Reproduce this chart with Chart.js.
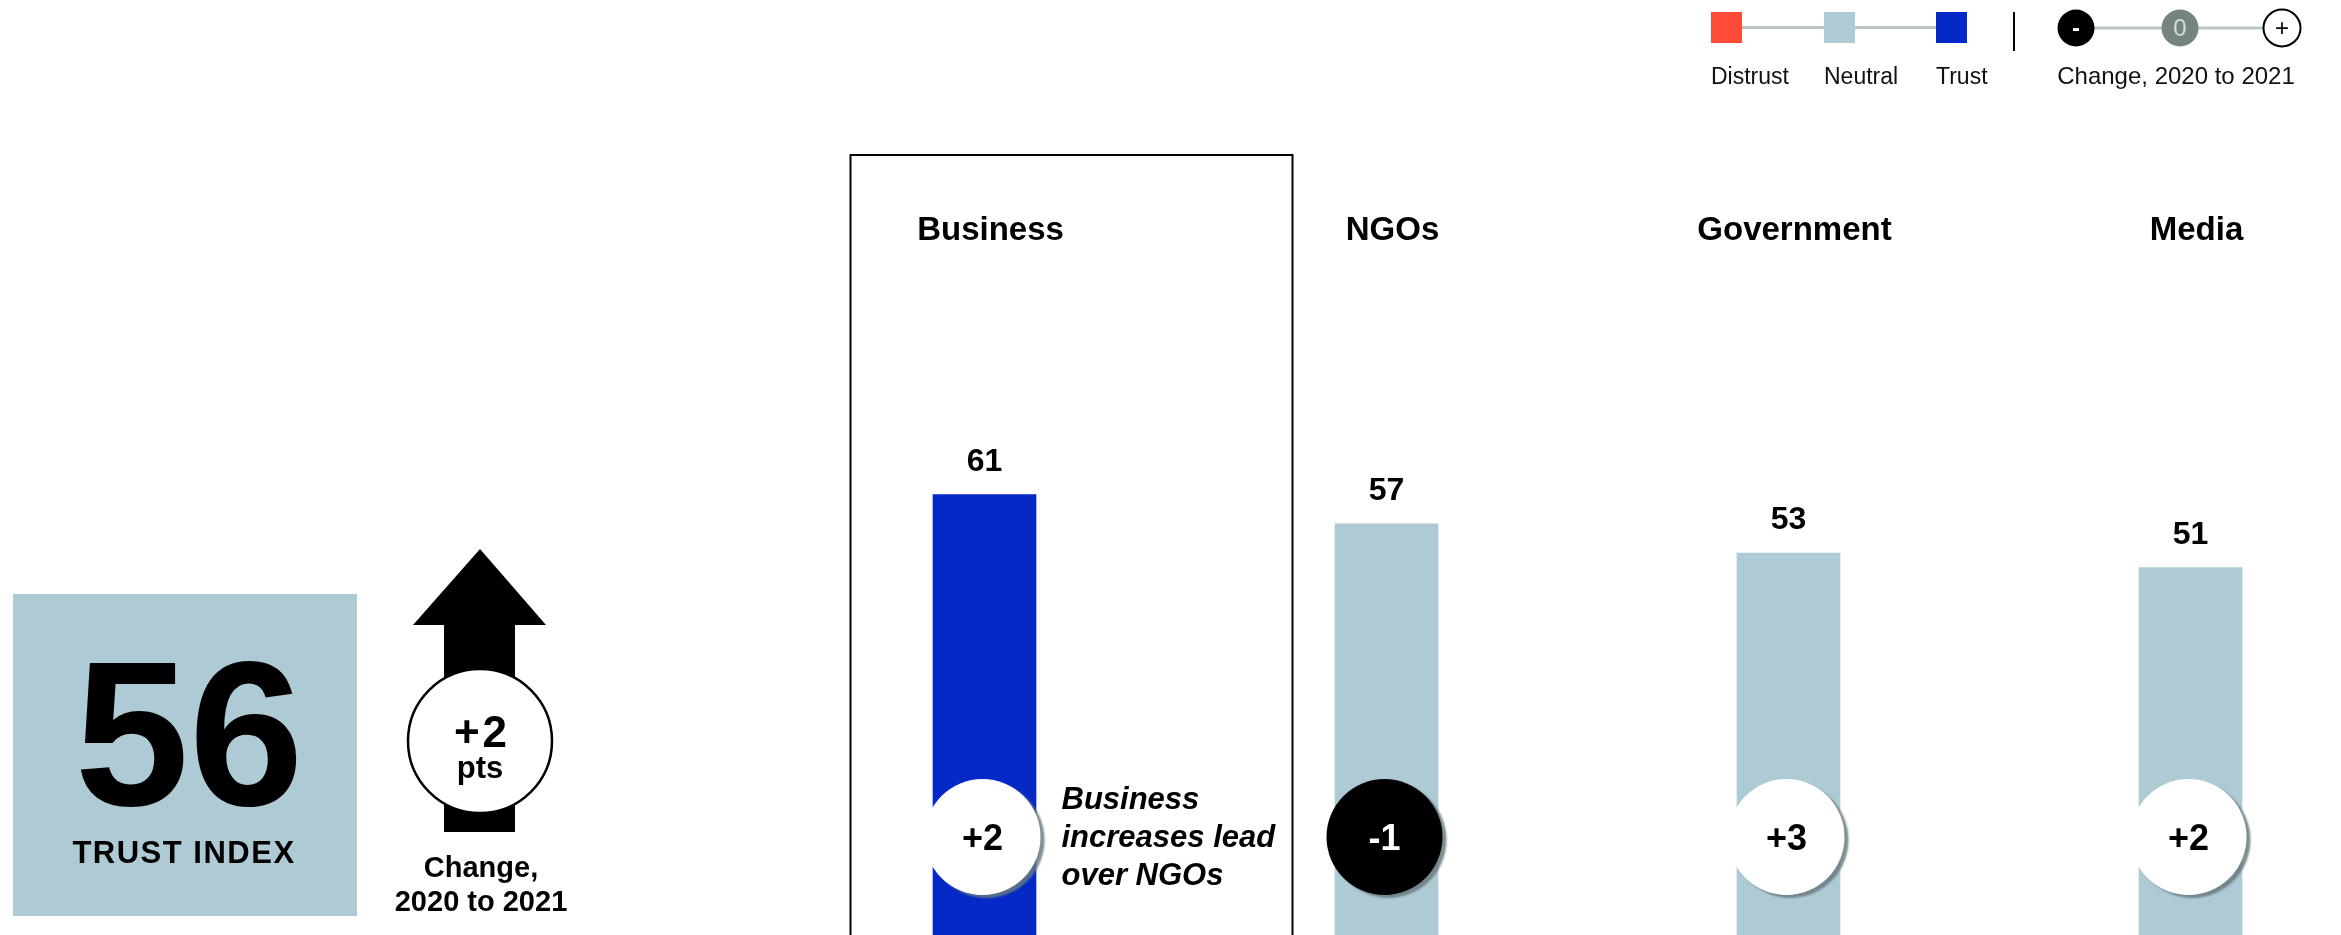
<!DOCTYPE html>
<html>
<head>
<meta charset="utf-8">
<title>Trust in institutions, 2021</title>
<script src="https://cdn.jsdelivr.net/npm/chart.js@4.4.1/dist/chart.umd.min.js"></script>
<style>
  html, body { margin: 0; padding: 0; background: #fff; overflow: hidden; }
  #wrap { position: relative; width: 2341px; height: 935px; overflow: hidden; }
  canvas { display: block; }
</style>
</head>
<body>
<div id="wrap"><canvas id="trustChart" width="2341" height="945"></canvas></div>
<script>
// trust scores per institution, 2021, and the change since 2020
var sectors = ['Business', 'NGOs', 'Government', 'Media'];
var trust2021 = [61, 57, 53, 51];
var change2020to2021 = [2, -1, 3, 2];

// overall trust index
var trustIndex = 56;
var indexChange = 2;

var levelLabels = ['Distrust', 'Neutral', 'Trust'];
var changeKeys = ['-', '0', '+'];
var changeCaption = 'Change, 2020 to 2021';
var leadNote = ['Business', 'increases lead', 'over NGOs'];

var FONT = '"Liberation Sans", Arial, Helvetica, sans-serif';
var COLORS = {
    distrust: '#ff4b38',
    neutral: '#aecad4',
    trust: '#0529c7',
    connector: '#bcc6c6',
    zero: '#75847f',
    shadow: 'rgba(105, 122, 128, 0.85)'
};
var levelColors = [COLORS.distrust, COLORS.neutral, COLORS.trust];

function levelColor(v) {
    if (v >= 60) return COLORS.trust;
    if (v >= 50) return COLORS.neutral;
    return COLORS.distrust;
}

function signed(v) {
    return (v > 0 ? '+' : '') + v;
}

function text(ctx, str, x, y, font, color, align) {
    ctx.font = font;
    ctx.fillStyle = color;
    ctx.textAlign = align || 'center';
    ctx.fillText(str, x, y);
}

function changeBadge(ctx, x, y, r, value) {
    ctx.save();
    ctx.shadowColor = COLORS.shadow;
    ctx.shadowOffsetX = 4;
    ctx.shadowOffsetY = 3;
    ctx.shadowBlur = 2;
    ctx.beginPath();
    ctx.arc(x, y, r, 0, Math.PI * 2);
    ctx.fillStyle = value < 0 ? '#000' : '#fff';
    ctx.fill();
    ctx.restore();
    ctx.textBaseline = 'alphabetic';
    text(ctx, signed(value), x, y + 13, 'bold 36px ' + FONT, value < 0 ? '#fff' : '#000');
}

function drawIndexPanel(ctx) {
    // trust index square
    ctx.fillStyle = levelColor(trustIndex);
    ctx.fillRect(13, 594, 344, 322);
    ctx.textBaseline = 'alphabetic';
    text(ctx, String(trustIndex), 189, 805, 'bold 206px ' + FONT, '#000');
    ctx.save();
    ctx.letterSpacing = '1.5px';
    text(ctx, 'TRUST INDEX', 184, 863, 'bold 31px ' + FONT, '#000');
    ctx.restore();

    // up arrow with the index change
    ctx.fillStyle = '#000';
    ctx.fillRect(444, 620, 71, 212);
    ctx.beginPath();
    ctx.moveTo(413, 625);
    ctx.lineTo(480, 549);
    ctx.lineTo(546, 625);
    ctx.closePath();
    ctx.fill();

    ctx.beginPath();
    ctx.arc(480, 741, 72, 0, Math.PI * 2);
    ctx.fillStyle = '#fff';
    ctx.fill();
    ctx.lineWidth = 2.5;
    ctx.strokeStyle = '#000';
    ctx.stroke();

    ctx.save();
    ctx.letterSpacing = '3px';
    text(ctx, signed(indexChange), 482, 747, 'bold 44px ' + FONT, '#000');
    ctx.restore();
    text(ctx, 'pts', 480, 778, 'bold 31px ' + FONT, '#000');

    text(ctx, 'Change,', 481, 877, 'bold 29px ' + FONT, '#000');
    text(ctx, '2020 to 2021', 481, 911, 'bold 29px ' + FONT, '#000');
}

function drawLegend(ctx) {
    var sq = [1711, 1824, 1936];
    ctx.strokeStyle = COLORS.connector;
    ctx.lineWidth = 3;
    ctx.beginPath();
    ctx.moveTo(sq[0] + 31, 27.5);
    ctx.lineTo(sq[2], 27.5);
    ctx.stroke();
    ctx.textBaseline = 'alphabetic';
    for (var i = 0; i < levelLabels.length; i++) {
        ctx.fillStyle = levelColors[i];
        ctx.fillRect(sq[i], 12, 31, 31);
        text(ctx, levelLabels[i], sq[i], 84, '23px ' + FONT, '#111', 'left');
    }

    ctx.strokeStyle = '#000';
    ctx.lineWidth = 2;
    ctx.beginPath();
    ctx.moveTo(2014, 12);
    ctx.lineTo(2014, 51);
    ctx.stroke();

    var cx = [2076, 2180, 2282];
    ctx.strokeStyle = COLORS.connector;
    ctx.lineWidth = 3;
    ctx.beginPath();
    ctx.moveTo(cx[0], 28);
    ctx.lineTo(cx[2], 28);
    ctx.stroke();

    var fills = ['#000', COLORS.zero, '#fff'];
    var inks = ['#fff', '#d4dbd9', '#000'];
    for (var j = 0; j < cx.length; j++) {
        ctx.beginPath();
        ctx.arc(cx[j], 28, 18.5, 0, Math.PI * 2);
        ctx.fillStyle = fills[j];
        ctx.fill();
        if (j === 2) {
            ctx.strokeStyle = '#000';
            ctx.lineWidth = 2;
            ctx.stroke();
        }
        ctx.textBaseline = 'middle';
        text(ctx, changeKeys[j], cx[j], 29, (j === 0 ? 'bold ' : '') + '24px ' + FONT, inks[j]);
    }
    ctx.textBaseline = 'alphabetic';
    text(ctx, changeCaption, 2176, 84, '24px ' + FONT, '#111');
}

var trustDecor = {
    id: 'trustDecor',
    afterDraw: function (chart) {
        var ctx = chart.ctx;
        var bars = chart.getDatasetMeta(0).data;
        ctx.save();

        drawIndexPanel(ctx);
        drawLegend(ctx);

        // frame around the leading institution
        var lead = bars[0];
        ctx.strokeStyle = '#000';
        ctx.lineWidth = 2;
        ctx.strokeRect(lead.x - 134, 155, 442, 800);

        for (var i = 0; i < bars.length; i++) {
            var b = bars[i];
            ctx.textBaseline = 'middle';
            text(ctx, sectors[i], b.x + 6, 231, 'bold 33px ' + FONT, '#000');
            ctx.textBaseline = 'alphabetic';
            text(ctx, String(trust2021[i]), b.x, b.y - 24, 'bold 32px ' + FONT, '#000');
            changeBadge(ctx, b.x - 2, chart.chartArea.bottom - 103, 58, change2020to2021[i]);
        }

        ctx.textBaseline = 'alphabetic';
        for (var k = 0; k < leadNote.length; k++) {
            text(ctx, leadNote[k], lead.x + 77, 809 + k * 38, 'italic bold 31px ' + FONT, '#000', 'left');
        }
        ctx.restore();
    }
};

new Chart(document.getElementById('trustChart').getContext('2d'), {
    type: 'bar',
    data: {
        labels: sectors,
        datasets: [{
            data: trust2021,
            backgroundColor: trust2021.map(levelColor),
            barThickness: 103,
            clip: false
        }]
    },
    options: {
        responsive: false,
        animation: false,
        devicePixelRatio: 1,
        layout: { padding: { left: 984.5, right: 150.5, top: 210, bottom: 5 } },
        plugins: {
            legend: { display: false },
            tooltip: { enabled: false }
        },
        scales: {
            x: { display: false, offset: false },
            y: { display: false, min: 0, max: 100 }
        }
    },
    plugins: [trustDecor]
});
</script>
</body>
</html>
